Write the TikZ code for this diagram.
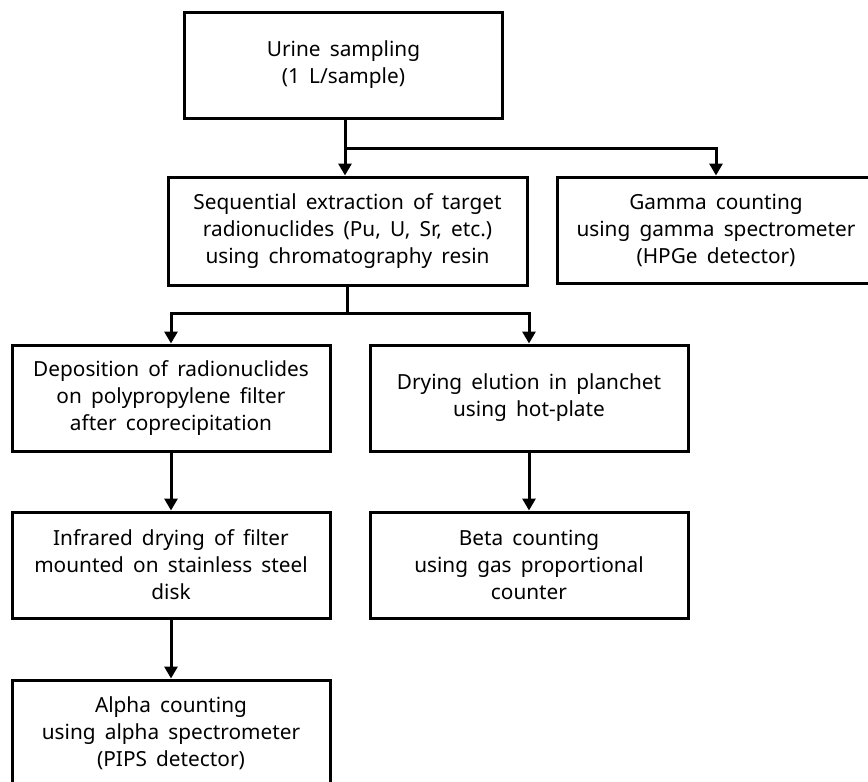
\documentclass[tikz,border=0pt]{standalone}
\usepackage{fontspec}
\setmainfont[WordSpace=1.7]{Noto Sans}
\usetikzlibrary{arrows.meta}

\begin{document}
\begin{tikzpicture}[
	x=0.5pt, y=-0.5pt,
	line width=1.5pt,
	every node/.style={align=center, font=\fontsize{10.4}{13.5}\selectfont},
	stepbox/.style={draw, minimum width=159pt, minimum height=53pt, inner sep=0pt},
	arr/.style={-{Triangle[width=6.5pt, length=6pt]}}
	]
	\useasboundingbox (0,0) rectangle (868,782);
	
	% Nodes
	\node[stepbox] (urine) at (343.5,65) {Urine sampling\\(1 L/sample)};
	\node[stepbox, minimum width=179.5pt, minimum height=54pt] (extract) at (347.5,231) {Sequential extraction of target\\radionuclides (Pu, U, Sr, etc.)\\using chromatography resin};
	\node[stepbox] (gamma) at (716,230) {Gamma counting\\using gamma spectrometer\\(HPGe detector)};
	
	\node[stepbox] (deposit) at (171,398) {Deposition of radionuclides\\on polypropylene filter\\after coprecipitation};
	\node[stepbox] (drying) at (529,398) {Drying elution in planchet\\using hot-plate};
	
	\node[stepbox] (infrared) at (171,565) {Infrared drying of filter\\mounted on stainless steel\\disk};
	\node[stepbox] (beta) at (529,565) {Beta counting\\using gas proportional\\counter};
	
	\node[stepbox] (alpha) at (171,733) {Alpha counting\\using alpha spectrometer\\(PIPS detector)};
	
	\coordinate (split1) at (345,148);
	\coordinate (split2) at (347,313);
	
	% Arrows
	\draw[arr] (urine.south -| split1) -- (extract.north -| split1);
	\draw[arr] (split1) -| (gamma.north);
	
	\draw (extract.south -| split2) -- (split2);
	\draw[arr] (split2) -| (deposit.north);
	\draw[arr] (split2) -| (drying.north);
	
	\draw[arr] (deposit) -- (infrared);
	\draw[arr] (infrared) -- (alpha);
	\draw[arr] (drying) -- (beta);
	
\end{tikzpicture}
\end{document}
